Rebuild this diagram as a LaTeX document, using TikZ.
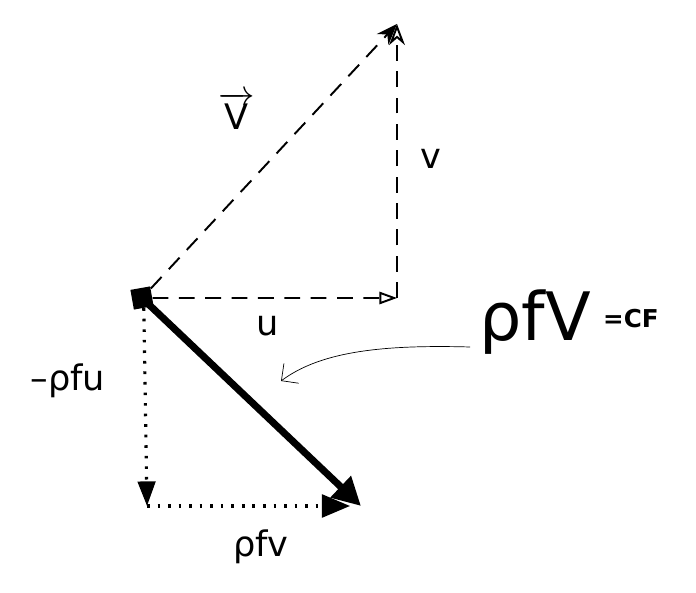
\documentclass[tikz,border=0pt]{standalone}
\usepackage{fontspec}
\setmainfont{DejaVu Sans}
\usetikzlibrary{arrows.meta,positioning}

\begin{document}
\begin{tikzpicture}[
    dashline/.style={dash pattern=on 9pt off 6pt, line width=1.1pt},
    dotline/.style={dash pattern=on 1.5pt off 4.5pt, line width=1.8pt},
    lbl/.style={font=\fontsize{20}{22}\selectfont}
  ]
    \useasboundingbox (0,0) rectangle (13.92,11.84);
    \node[fill=black, minimum size=0.4cm, inner sep=0pt, rotate=10] (sq) at (2.84,5.88) {};
    \coordinate (uend) at (7.94,5.88);
    \coordinate (vend) at (7.94,11.36);
    \coordinate (fend) at (7.22,1.72);
    \coordinate (dn) at (2.94,1.72);
    \coordinate (rt) at (7.0,1.72);
    \coordinate (cfs) at (9.4,4.9);
    \coordinate (cfe) at (5.62,4.22);
    \draw[dashline, -{Triangle[open,length=10pt,width=7pt]}] (sq) -- (uend);
    \draw[dashline, -{Stealth[open,length=12pt,width=9pt]}] (uend) -- (vend);
    \draw[dashline, -{Stealth[length=12pt,width=9pt]}] (sq) -- (vend);
    \draw[line width=4pt, -{Triangle[length=16pt,width=16pt]}] (sq.center) -- (fend);
    \draw[dotline, -{Triangle[length=14pt,width=10pt]}] (sq.south) -- (dn);
    \draw[dotline, -{Triangle[length=16pt,width=13pt]}] (dn) -- (rt);
    \draw[thin, -{Straight Barb[length=7pt]}] (cfs) .. controls (7.6,4.95) and (6.4,4.8) .. (cfe);
    \node[lbl] (vvec) at (4.74,9.62) {$\overrightarrow{\mbox{V}}$};
    \node[lbl] (vl) at (8.62,8.66) {v};
    \node[lbl] (ul) at (5.36,5.32) {u};
    \node[lbl] (fu) at (1.36,4.22) {–ρfu};
    \node[lbl] (fv) at (5.22,0.9) {ρfv};
    \node[font=\fontsize{38}{40}\selectfont] (fV) at (10.7,5.4) {ρfV};
    \node[font=\fontsize{14}{16}\selectfont\bfseries, right=0pt of fV.east, yshift=2pt] (cf) {=CF};
  \end{tikzpicture}
\end{document}
